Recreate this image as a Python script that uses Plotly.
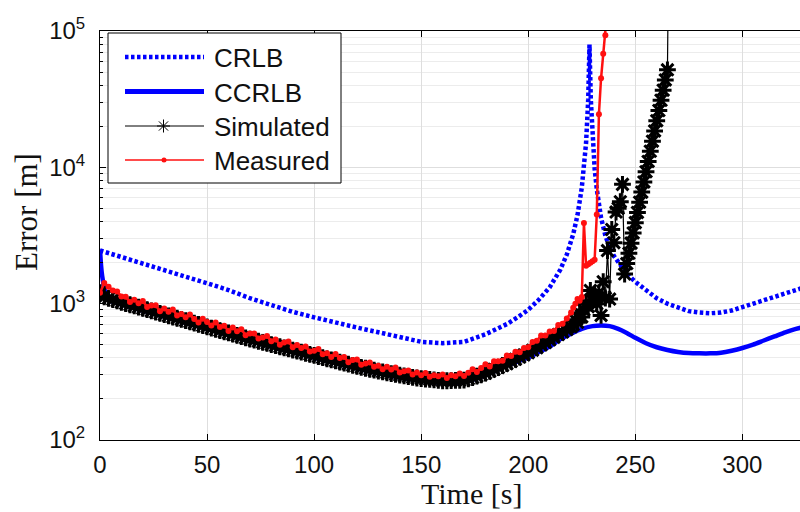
import plotly.graph_objects as go

# ---------------- data ----------------
crlb_t = [0, 10, 20, 30, 40, 50, 60, 70, 80, 90, 100, 110, 120, 130, 140, 150, 160, 170, 180,
          190, 195, 200, 205, 210, 215, 218, 221, 223, 225, 226, 227, 228, 228.6, 229.2, 230,
          231, 232, 234, 236, 238, 240, 243, 246, 250, 255, 260, 265, 270, 275, 280, 285, 290,
          295, 300, 305, 310, 315, 320, 325, 330]
crlb_v = [2455, 2188, 1950, 1758, 1578, 1413, 1259, 1096, 977, 871, 794, 724, 668, 617, 569, 525,
          513, 525, 596, 708, 794, 902, 1072, 1318, 1778, 2291, 3236, 4467, 7079, 9772, 15136,
          31623, 79433, 31623, 15849, 9772, 6918, 4266, 3162, 2570, 2239, 1905, 1660, 1445, 1259,
          1096, 1000, 933, 881, 861, 851, 861, 891, 944, 1000, 1059, 1122, 1189, 1259, 1334]

ccrlb_t = [0, 0.5, 1, 2, 3, 5, 10, 20, 30, 40, 50, 60, 70, 80, 90, 100, 110, 120, 130, 140, 150,
           160, 170, 180, 190, 200, 205, 210, 215, 220, 225, 230, 234, 238, 242, 246, 250, 255,
           260, 265, 270, 275, 280, 285, 290, 295, 300, 305, 310, 315, 320, 325, 330]
ccrlb_v = [2500, 1900, 1600, 1300, 1150, 1047, 989, 891, 804, 724, 653, 589, 531, 484, 442, 403,
           367, 335, 309, 288, 272, 263, 266, 299, 351, 403, 442, 484, 550, 603, 653, 684, 692,
           684, 653, 610, 562, 513, 479, 457, 442, 434, 432, 432, 437, 452, 473, 501, 537, 575,
           617, 653, 684]

sim_t = [0, 2, 4, 6, 8, 10, 12, 14, 16, 18, 20, 22, 24, 26, 28, 30, 32, 34, 36, 38, 40, 42, 44,
         46, 48, 50, 52, 54, 56, 58, 60, 62, 64, 66, 68, 70, 72, 74, 76, 78, 80, 82, 84, 86, 88,
         90, 92, 94, 96, 98, 100, 102, 104, 106, 108, 110, 112, 114, 116, 118, 120, 122, 124, 126,
         128, 130, 132, 134, 136, 138, 140, 142, 144, 146, 148, 150, 152, 154, 156, 158, 160, 162,
         164, 166, 168, 170, 172, 174, 176, 178, 180, 182, 184, 186, 188, 190, 192, 194, 196, 198,
         200, 202, 204, 206, 208, 210, 212, 214, 216, 218, 220, 221, 222, 223, 224, 225, 226, 227,
         228, 229, 230, 231, 232, 233, 234, 235, 236, 237, 238, 239, 240, 241, 242, 243, 244, 245,
         246, 247, 248, 249, 250, 251, 252, 253, 254, 255, 256, 257, 258, 259, 260, 261, 262, 263,
         264, 265, 266]
sim_v = [1202, 1122, 1096, 1072, 1047, 1023, 1002, 982, 962, 942,
         923, 904, 885, 867, 849, 832, 815, 798, 782, 766,
         750, 735, 719, 705, 690, 676, 662, 649, 635, 622,
         610, 597, 585, 573, 561, 550, 540, 530, 520, 511,
         501, 492, 483, 474, 466, 457, 449, 441, 433, 425,
         417, 409, 402, 394, 387, 380, 373, 366, 360, 353,
         347, 341, 336, 330, 325, 320, 316, 311, 307, 303,
         299, 295, 292, 288, 285, 282, 280, 278, 276, 274,
         272, 272, 273, 274, 274, 275, 281, 287, 294, 301,
         309, 319, 330, 340, 352, 363, 377, 391, 406, 421,
         437, 456, 476, 498, 520, 543, 568, 593, 619, 647,
         676,
         700, 760, 730, 850, 800, 900, 1000, 950, 1250, 1050,
         1150, 1000, 1200, 820, 1450, 1100, 2450, 1080, 3500, 2800,
         4700, 5000, 5600, 7500, 1650, 1970, 2340, 2780, 3300, 3930,
         4670, 5550, 6580, 7820, 9290, 11040, 13120, 15560, 18490, 21980,
         26120, 31050, 36810, 43750, 51880, 2000000]

meas_t = [0, 2, 4, 6, 8, 10, 12, 14, 16, 18, 20, 22, 24, 26, 28, 30, 32, 34, 36, 38, 40, 42, 44,
          46, 48, 50, 52, 54, 56, 58, 60, 62, 64, 66, 68, 70, 72, 74, 76, 78, 80, 82, 84, 86, 88,
          90, 92, 94, 96, 98, 100, 102, 104, 106, 108, 110, 112, 114, 116, 118, 120, 122, 124, 126,
          128, 130, 132, 134, 136, 138, 140, 142, 144, 146, 148, 150, 152, 154, 156, 158, 160, 162,
          164, 166, 168, 170, 172, 174, 176, 178, 180, 182, 184, 186, 188, 190, 192, 194, 196, 198,
          200, 202, 204, 206, 208, 210, 212, 214, 216, 218, 220, 221, 222, 223, 224, 225, 226, 227,
          228, 229, 230, 231, 232, 233, 234, 235, 236, 237]
meas_v = [1202, 1420, 1330, 1250, 1230, 1130, 1125, 1028, 1067, 1009,
          1047, 946, 971, 973, 879, 923, 873, 906, 818, 839,
          794, 834, 771, 729, 774, 733, 693, 728, 673, 690,
          631, 670, 627, 650, 587, 603, 605, 555, 564, 579,
          531, 546, 500, 520, 528, 479, 498, 472, 485, 445,
          452, 465, 426, 433, 406, 427, 400, 406, 372, 387,
          389, 357, 364, 371, 344, 351, 330, 345, 329, 340,
          313, 320, 324, 302, 313, 299, 310, 291, 299, 294,
          302, 285, 299, 293, 308, 295, 311, 330, 315, 338,
          359, 346, 378, 378, 381, 417, 413, 444, 440, 472,
          479, 524, 535, 585, 583, 624, 630, 697, 711, 778,
          860,
          933, 1000, 1080, 1050, 1120, 3900, 1900, 1950, 2000, 2050,
          2100, 4500, 24500, 45000, 68000, 93000, 150000]

x_ticks = [0, 50, 100, 150, 200, 250, 300]
y_ticks = [100, 1000, 10000, 100000]
y_tick_text = ["10<sup>2</sup>", "10<sup>3</sup>", "10<sup>4</sup>", "10<sup>5</sup>"]
y_minor = [m * d for d in (100, 1000, 10000) for m in range(2, 10)]
series_names = ["CRLB", "CCRLB", "Simulated", "Measured"]
x_title = "Time [s]"
y_title = "Error [m]"

# ---------------- layout helpers ----------------
W, H = 800, 512
ML, MR, MT, MB = 100, 0, 31, 72
PW, PH = W - ML - MR, H - MT - MB


def px(x):
    return (x - ML) / PW


def py(y):
    return (H - MB - y) / PH


BLUE = "#0000ff"
RED = "#ff1010"
TICKFONT = dict(family="Liberation Sans, Arial, sans-serif", size=24, color="#111111")

fig = go.Figure()
fig.add_trace(go.Scatter(x=crlb_t, y=crlb_v, mode="lines", name=series_names[0],
                         line=dict(color=BLUE, width=4.5, dash="3.5px,2.5px"), showlegend=False))
fig.add_trace(go.Scatter(x=ccrlb_t, y=ccrlb_v, mode="lines", name=series_names[1],
                         line=dict(color=BLUE, width=4.5, shape="spline", smoothing=0.6),
                         showlegend=False))
fig.add_trace(go.Scatter(x=sim_t, y=sim_v, mode="lines+markers", name=series_names[2],
                         line=dict(color="black", width=1.2),
                         marker=dict(symbol="asterisk-open", size=14, color="black",
                                     line=dict(width=3, color="black")),
                         showlegend=False))
fig.add_trace(go.Scatter(x=meas_t, y=meas_v, mode="lines+markers", name=series_names[3],
                         line=dict(color=RED, width=2.5),
                         marker=dict(symbol="circle", size=6, color=RED),
                         showlegend=False))

fig.update_xaxes(range=[0, PW / 2.1413], tickvals=x_ticks, ticks="inside", ticklen=6,
                 tickcolor="black", showline=True, linecolor="black", linewidth=1,
                 mirror="ticks", showgrid=True, gridcolor="#dedede", gridwidth=1,
                 zeroline=False, tickfont=TICKFONT, ticklabelstandoff=3)
fig.update_yaxes(type="log", range=[2, 5], tickvals=y_ticks, ticktext=y_tick_text,
                 ticks="inside", ticklen=6, tickcolor="black", showline=True,
                 linecolor="black", linewidth=1, mirror=False, showgrid=True,
                 gridcolor="#dedede", gridwidth=1, zeroline=False, tickfont=TICKFONT,
                 ticklabelstandoff=9,
                 minor=dict(tickvals=y_minor, ticks="inside", ticklen=3, tickcolor="black",
                            showgrid=True, gridcolor="#ececec", gridwidth=1))

# ---------------- legend drawn as box ----------------
shapes = [dict(type="rect", xref="paper", yref="paper", x0=px(108), x1=px(341),
               y0=py(183), y1=py(33), line=dict(color="black", width=1),
               fillcolor="white", layer="above")]
rows = [57, 91.5, 126, 160]
lx0, lx1 = 125, 204
shapes.append(dict(type="line", xref="paper", yref="paper", x0=px(lx0), x1=px(lx1),
                   y0=py(rows[0]), y1=py(rows[0]),
                   line=dict(color=BLUE, width=4.5, dash="3.5px,2.5px"), layer="above"))
shapes.append(dict(type="line", xref="paper", yref="paper", x0=px(lx0), x1=px(lx1),
                   y0=py(rows[1]), y1=py(rows[1]), line=dict(color=BLUE, width=5), layer="above"))
shapes.append(dict(type="line", xref="paper", yref="paper", x0=px(lx0), x1=px(lx1),
                   y0=py(rows[2]), y1=py(rows[2]), line=dict(color="black", width=1), layer="above"))
cx, cy, r = 163.5, rows[2], 6.5
d = r * 0.7071
star = (f"M{px(cx - r)},{py(cy)} L{px(cx + r)},{py(cy)} "
        f"M{px(cx)},{py(cy - r)} L{px(cx)},{py(cy + r)} "
        f"M{px(cx - d)},{py(cy - d)} L{px(cx + d)},{py(cy + d)} "
        f"M{px(cx - d)},{py(cy + d)} L{px(cx + d)},{py(cy - d)}")
shapes.append(dict(type="path", xref="paper", yref="paper", path=star,
                   line=dict(color="black", width=1), layer="above"))
shapes.append(dict(type="line", xref="paper", yref="paper", x0=px(lx0), x1=px(lx1),
                   y0=py(rows[3]), y1=py(rows[3]), line=dict(color=RED, width=1.5), layer="above"))
shapes.append(dict(type="circle", xref="paper", yref="paper", x0=px(161.5), x1=px(166.5),
                   y0=py(rows[3] + 2.5), y1=py(rows[3] - 2.5), fillcolor=RED,
                   line=dict(color=RED, width=0), layer="above"))

annotations = []
for name, yy in zip(series_names, rows):
    annotations.append(dict(text=name, xref="paper", yref="paper", x=px(212), y=py(yy + 1),
                            xanchor="left", yanchor="middle", showarrow=False,
                            font=dict(family="Liberation Sans, Arial, sans-serif", size=26,
                                      color="#111111")))
annotations.append(dict(text=x_title, xref="paper", yref="paper", x=px(471), y=py(493),
                        xanchor="center", yanchor="middle", showarrow=False,
                        font=dict(family="Liberation Serif, Times New Roman, serif", size=30,
                                  color="#111111")))
annotations.append(dict(text=y_title, xref="paper", yref="paper", x=px(26), y=py(212),
                        xanchor="center", yanchor="middle", showarrow=False, textangle=-90,
                        font=dict(family="Liberation Serif, Times New Roman, serif", size=31,
                                  color="#111111")))

fig.update_layout(width=W, height=H, margin=dict(l=ML, r=MR, t=MT, b=MB, pad=0),
                  paper_bgcolor="white", plot_bgcolor="white", showlegend=False,
                  shapes=shapes, annotations=annotations)

fig.write_html("out.html")
